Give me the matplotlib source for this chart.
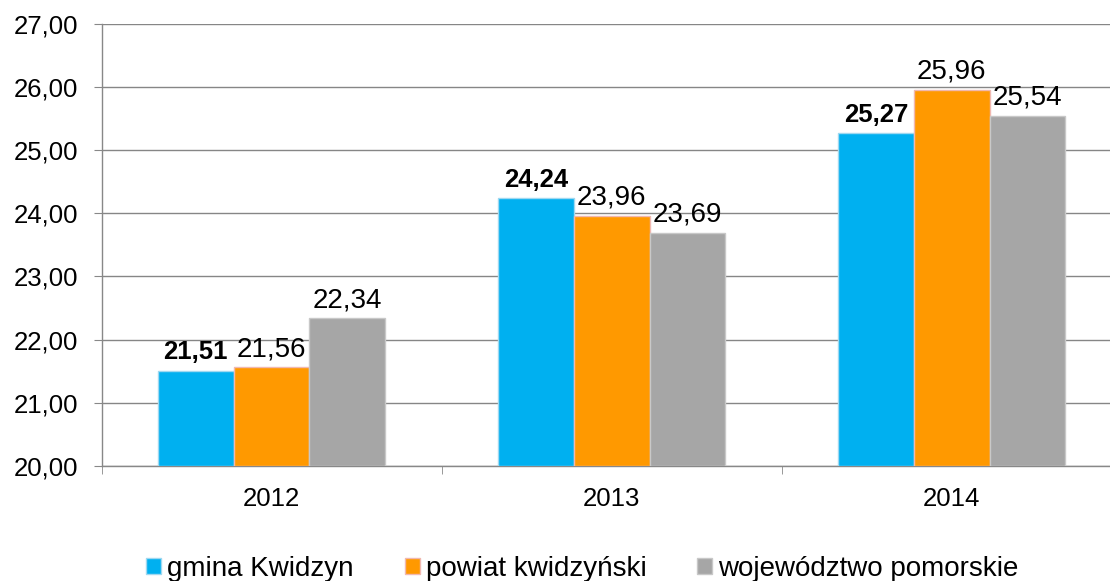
import matplotlib.pyplot as plt
import numpy as np
from matplotlib.patches import Patch
from matplotlib.ticker import FuncFormatter

plt.rcParams['font.family'] = ['Liberation Sans', 'DejaVu Sans']

years = ["2012", "2013", "2014"]
series_names = ["gmina Kwidzyn", "powiat kwidzyński", "województwo pomorskie"]
gmina = [21.51, 24.24, 25.27]
powiat = [21.56, 23.96, 25.96]
wojewodztwo = [22.34, 23.69, 25.54]
colors = ["#00B0F0", "#FF9900", "#A6A6A6"]
edges = ["#9fd8f0", "#f0b8b0", "#c8c8c8"]


def fmt(v):
	return f"{v:.2f}".replace(".", ",")


def main():
	fig = plt.figure(figsize=(11.1, 5.81), dpi=100)
	ax = fig.add_axes([0.0915, 0.198, 0.919, 0.761])
	x = np.arange(len(years))
	w = 0.223
	data = [gmina, powiat, wojewodztwo]
	for i, vals in enumerate(data):
		pos = x + (i - 1) * w
		ax.bar(pos, np.array(vals) - 20, bottom=20, width=w, color=colors[i],
			edgecolor=edges[i], linewidth=1, zorder=3)
		for p, v in zip(pos, vals):
			bold = i == 0
			ax.annotate(fmt(v), (p, v), xytext=(0, 8), textcoords="offset points",
				ha="center", va="baseline", fontsize=18.5 if bold else 20,
				fontweight="bold" if bold else "normal", color="black", zorder=4)

	ax.set_xlim(-0.5, 2.5)
	ax.set_ylim(20, 27)
	ax.set_yticks(np.arange(20, 27.01, 1))
	ax.yaxis.set_major_formatter(FuncFormatter(lambda v, p: fmt(v)))
	ax.set_xticks(x)
	ax.set_xticklabels(years)
	ax.set_xticks([-0.5, 0.5, 1.5, 2.5], minor=True)
	ax.tick_params(axis="x", which="major", length=0, labelsize=18.5, pad=15)
	ax.tick_params(axis="x", which="minor", length=6, color="#888888", direction="out")
	ax.tick_params(axis="y", length=6, color="#888888", labelsize=18.5, pad=11)
	ax.grid(axis="y", color="#868686", linewidth=1, zorder=0)
	for s in ["top", "right"]:
		ax.spines[s].set_visible(False)
	for s in ["left", "bottom"]:
		ax.spines[s].set_color("#888888")
		ax.spines[s].set_linewidth(1)

	handles = [Patch(facecolor=c, edgecolor=e) for c, e in zip(colors, edges)]
	fig.legend(handles, series_names, loc="center", bbox_to_anchor=(0.5248, 0.021),
		ncol=3, frameon=False, fontsize=20, handlelength=0.54, handleheight=0.47,
		handletextpad=0.22, columnspacing=1.83, borderpad=0)

	fig.savefig("out.png", dpi=100)


if __name__ == "__main__":
	main()
